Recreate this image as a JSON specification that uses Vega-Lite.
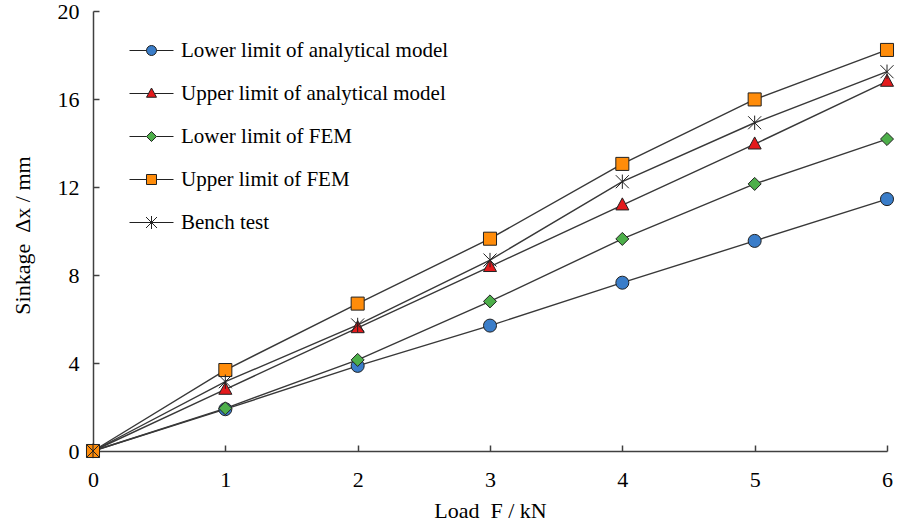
{
  "$schema": "https://vega.github.io/schema/vega-lite/v6.json",
  "autosize": "none",
  "width": 794,
  "height": 440,
  "padding": {"left": 93, "top": 11, "right": 11, "bottom": 76},
  "background": "white",
  "config": {
    "view": {"stroke": null},
    "font": "Liberation Serif",
    "axis": {
      "grid": false,
      "domainColor": "#404040",
      "domainWidth": 1.5,
      "tickColor": "#404040",
      "tickWidth": 1.5,
      "labelFlush": false,
      "labelFont": "Liberation Serif",
      "labelFontSize": 22,
      "labelColor": "black",
      "titleFont": "Liberation Serif",
      "titleFontSize": 22,
      "titleFontWeight": "normal",
      "titleColor": "black"
    }
  },
  "data": {
    "values": [
      {"series": "Lower limit of analytical model", "load": 0, "sinkage": 0},
      {"series": "Lower limit of analytical model", "load": 1, "sinkage": 1.9},
      {"series": "Lower limit of analytical model", "load": 2, "sinkage": 3.87},
      {"series": "Lower limit of analytical model", "load": 3, "sinkage": 5.7},
      {"series": "Lower limit of analytical model", "load": 4, "sinkage": 7.65},
      {"series": "Lower limit of analytical model", "load": 5, "sinkage": 9.55},
      {"series": "Lower limit of analytical model", "load": 6, "sinkage": 11.45},
      {"series": "Upper limit of analytical model", "load": 0, "sinkage": 0},
      {"series": "Upper limit of analytical model", "load": 1, "sinkage": 2.8},
      {"series": "Upper limit of analytical model", "load": 2, "sinkage": 5.6},
      {"series": "Upper limit of analytical model", "load": 3, "sinkage": 8.38},
      {"series": "Upper limit of analytical model", "load": 4, "sinkage": 11.18},
      {"series": "Upper limit of analytical model", "load": 5, "sinkage": 13.95},
      {"series": "Upper limit of analytical model", "load": 6, "sinkage": 16.8},
      {"series": "Lower limit of FEM", "load": 0, "sinkage": 0},
      {"series": "Lower limit of FEM", "load": 1, "sinkage": 1.94},
      {"series": "Lower limit of FEM", "load": 2, "sinkage": 4.14},
      {"series": "Lower limit of FEM", "load": 3, "sinkage": 6.8},
      {"series": "Lower limit of FEM", "load": 4, "sinkage": 9.64},
      {"series": "Lower limit of FEM", "load": 5, "sinkage": 12.14},
      {"series": "Lower limit of FEM", "load": 6, "sinkage": 14.18},
      {"series": "Upper limit of FEM", "load": 0, "sinkage": 0},
      {"series": "Upper limit of FEM", "load": 1, "sinkage": 3.68},
      {"series": "Upper limit of FEM", "load": 2, "sinkage": 6.7},
      {"series": "Upper limit of FEM", "load": 3, "sinkage": 9.65},
      {"series": "Upper limit of FEM", "load": 4, "sinkage": 13.05},
      {"series": "Upper limit of FEM", "load": 5, "sinkage": 15.98},
      {"series": "Upper limit of FEM", "load": 6, "sinkage": 18.23},
      {"series": "Bench test", "load": 0, "sinkage": 0},
      {"series": "Bench test", "load": 1, "sinkage": 3.15},
      {"series": "Bench test", "load": 2, "sinkage": 5.73},
      {"series": "Bench test", "load": 3, "sinkage": 8.68},
      {"series": "Bench test", "load": 4, "sinkage": 12.24},
      {"series": "Bench test", "load": 5, "sinkage": 14.92},
      {"series": "Bench test", "load": 6, "sinkage": 17.24}
    ]
  },
  "encoding": {
    "x": {
      "field": "load",
      "type": "quantitative",
      "scale": {"domain": [0, 6], "nice": false},
      "axis": {
        "values": [0, 1, 2, 3, 4, 5, 6],
        "tickSize": -6,
        "labelPadding": 24,
        "title": "Load\u00a0\u00a0F\u00a0/\u00a0kN",
        "titleY": 66,
        "titleBaseline": "alphabetic"
      }
    },
    "y": {
      "field": "sinkage",
      "type": "quantitative",
      "scale": {"domain": [0, 20], "nice": false},
      "axis": {
        "values": [0, 4, 8, 12, 16, 20],
        "tickSize": -6,
        "labelPadding": 20,
        "title": "Sinkage\u00a0\u00a0Δx\u00a0/\u00a0mm",
        "titleX": -71,
        "titleY": 224,
        "titleAlign": "center",
        "titleBaseline": "middle",
        "titleAngle": -90
      }
    }
  },
  "layer": [
    {
      "mark": {"type": "line", "stroke": "#383838", "strokeWidth": 1.4},
      "encoding": {"detail": {"field": "series"}}
    },
    {
      "mark": {"type": "point", "filled": true, "stroke": "#222222", "strokeWidth": 1, "size": 170, "opacity": 1},
      "encoding": {
        "fill": {
          "field": "series",
          "type": "nominal",
          "scale": {
            "domain": ["Lower limit of analytical model", "Upper limit of analytical model", "Lower limit of FEM", "Upper limit of FEM", "Bench test"],
            "range": ["#3A7DC9", "#E41A1C", "#4DAF4A", "#FF8C0A", "#000000"]
          },
          "legend": null
        },
        "shape": {
          "field": "series",
          "type": "nominal",
          "scale": {
            "domain": ["Lower limit of analytical model", "Upper limit of analytical model", "Lower limit of FEM", "Upper limit of FEM", "Bench test"],
            "range": ["circle", "M0,-1.1L1,0.75L-1,0.75Z", "diamond", "square", "M-1,-1L1,1M-1,1L1,-1M0,-1.1V1.1"]
          },
          "legend": null
        }
      }
    },
    {
      "transform": [{"filter": "datum.load < 0"}],
      "mark": {"type": "point", "filled": true, "strokeWidth": 1, "opacity": 1},
      "encoding": {
        "fill": {
          "field": "series",
          "type": "nominal",
          "scale": {
            "domain": ["Lower limit of analytical model", "Upper limit of analytical model", "Lower limit of FEM", "Upper limit of FEM", "Bench test"],
            "range": ["#3A7DC9", "#E41A1C", "#4DAF4A", "#FF8C0A", "#000000"]
          },
          "legend": {
            "orient": "none",
            "legendX": 48,
            "legendY": 29,
            "title": null,
            "padding": 0,
            "labelFont": "Liberation Serif",
            "labelFontSize": 21,
            "labelColor": "black",
            "symbolSize": 100,
            "symbolStrokeWidth": 1,
            "rowPadding": 21,
            "labelOffset": 19,
            "labelLimit": 400
          }
        },
        "stroke": {
          "field": "series",
          "type": "nominal",
          "scale": {
            "domain": ["Lower limit of analytical model", "Upper limit of analytical model", "Lower limit of FEM", "Upper limit of FEM", "Bench test"],
            "range": ["#222222", "#222222", "#222222", "#222222", "#222222"]
          },
          "legend": {
            "orient": "none",
            "legendX": 48,
            "legendY": 29,
            "title": null,
            "padding": 0,
            "labelFont": "Liberation Serif",
            "labelFontSize": 21,
            "labelColor": "black",
            "symbolSize": 100,
            "symbolStrokeWidth": 1,
            "rowPadding": 21,
            "labelOffset": 19,
            "labelLimit": 400
          }
        },
        "shape": {
          "field": "series",
          "type": "nominal",
          "scale": {
            "domain": ["Lower limit of analytical model", "Upper limit of analytical model", "Lower limit of FEM", "Upper limit of FEM", "Bench test"],
            "range": [
              "M-4.4,0H-1M1,0H4.4M-1,0A1,1,0,1,0,1,0A1,1,0,1,0,-1,0Z",
              "M-4.4,0H-0.6M0.6,0H4.4M0,-1.1L1,0.75L-1,0.75Z",
              "M-4.4,0H-1M1,0H4.4M0,-1L1,0L0,1L-1,0Z",
              "M-4.4,0H-1M1,0H4.4M-1,-1H1V1H-1Z",
              "M-4.4,0H4.4M-1.1,-1.1L1.1,1.1M-1.1,1.1L1.1,-1.1M0,-1.3V1.3"
            ]
          },
          "legend": {
            "orient": "none",
            "legendX": 48,
            "legendY": 29,
            "title": null,
            "padding": 0,
            "labelFont": "Liberation Serif",
            "labelFontSize": 21,
            "labelColor": "black",
            "symbolSize": 100,
            "symbolStrokeWidth": 1,
            "rowPadding": 21,
            "labelOffset": 19,
            "labelLimit": 400
          }
        }
      }
    }
  ],
  "resolve": {"scale": {"shape": "independent", "fill": "independent", "stroke": "independent"}}
}
